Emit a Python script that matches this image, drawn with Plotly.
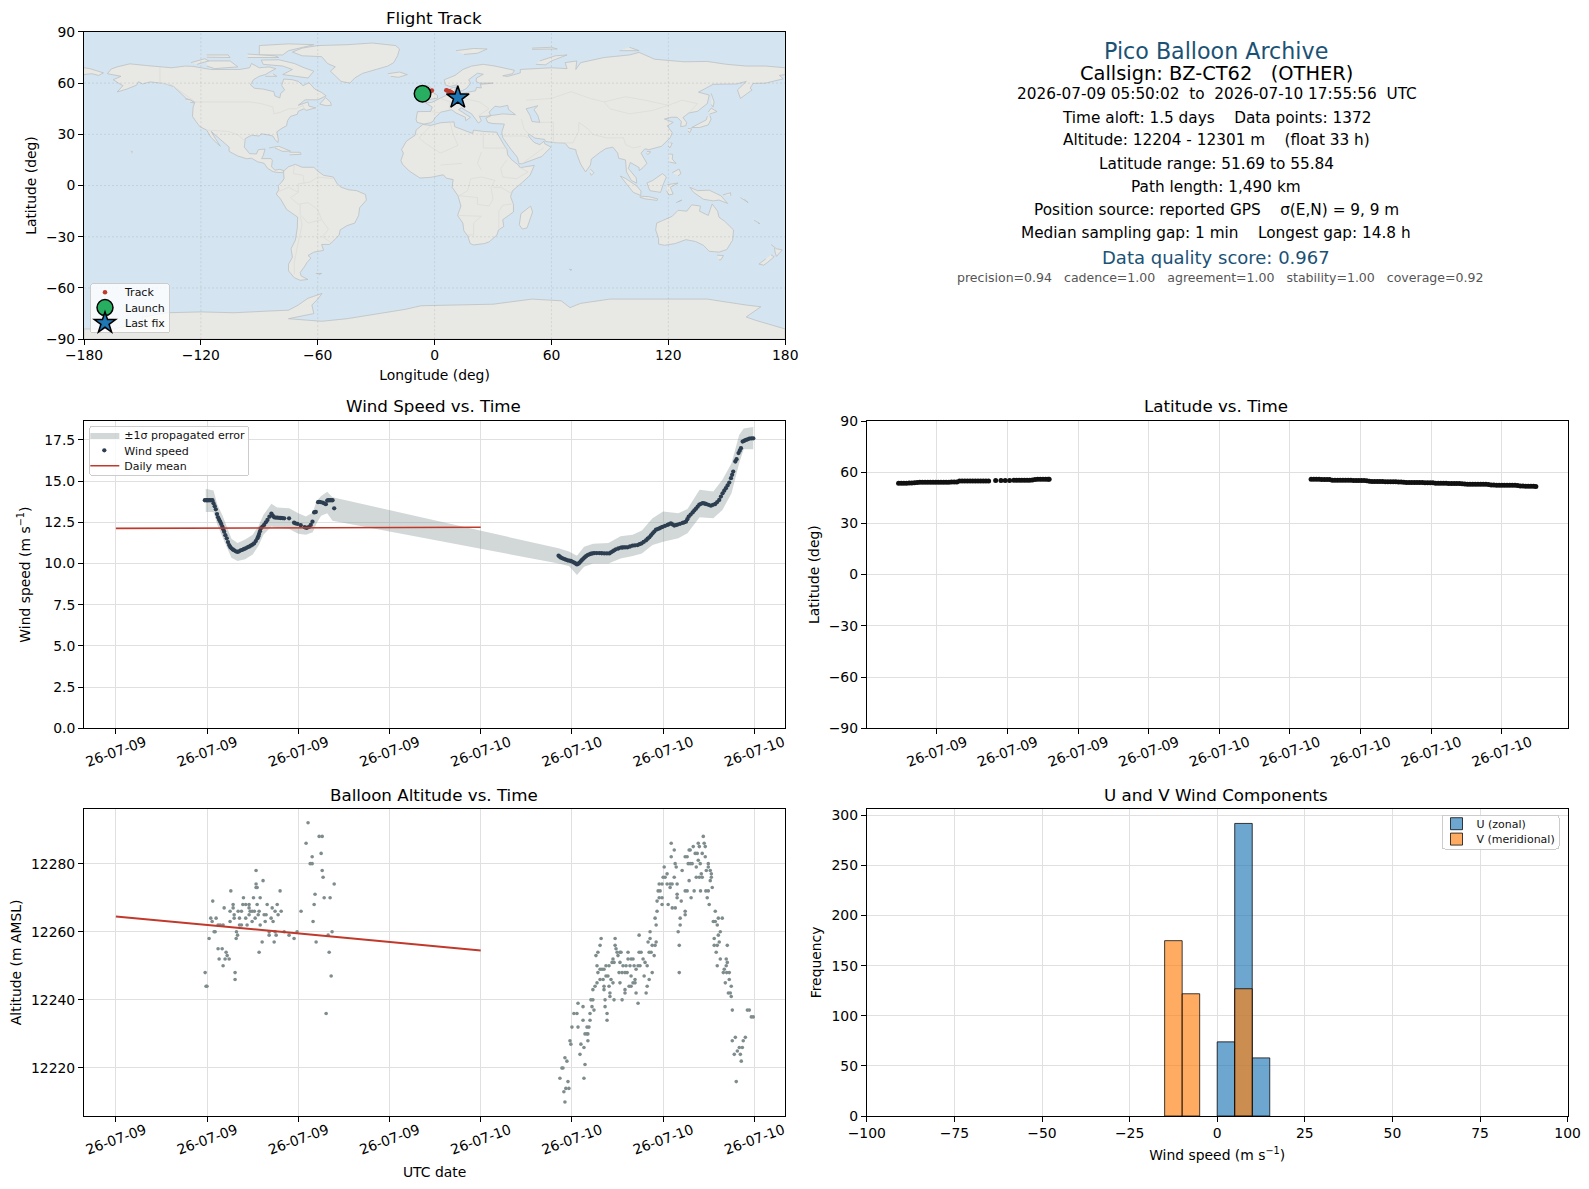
from datetime import datetime, timedelta
import plotly.graph_objects as go

# ---- data -------------------------------------------------------------
base_time = datetime(2026, 7, 9)
wide_tick_hours = [0, 6, 12, 18, 24, 30, 36, 42]
lat_tick_hours = [8, 12, 16, 20, 24, 28, 32, 36, 40]
lon_ticks = [-180, -120, -60, 0, 60, 120, 180]
lat_ticks = [-90, -60, -30, 0, 30, 60, 90]

track_lon = [-6.2, -5.3, -4.2, -3.2, -2.2, -1.4, 6.0, 6.8, 7.6, 8.4, 9.2, 10.2, 11.9]
track_lat = [53.6, 54.0, 54.4, 54.9, 55.3, 55.7, 55.8, 55.6, 55.2, 54.8, 54.2, 53.0, 51.7]
launch_point = ([-6.2], [53.8])
last_fix_point = ([11.9], [51.5])

wind_points = [
    (5.85,13.84),(5.95,13.84),(6.04,13.84),(6.13,13.84),(6.24,13.84),(6.35,13.84),(6.42,13.66),(6.5,13.48),(6.57,13.29),(6.65,13.0),
    (6.72,12.8),(6.79,12.66),(6.86,12.54),(6.93,12.4),(7.0,12.24),(7.06,12.08),(7.12,11.93),(7.2,11.72),(7.29,11.53),(7.37,11.3),
    (7.45,11.12),(7.52,11.0),(7.6,10.92),(7.69,10.85),(7.78,10.8),(7.89,10.74),(8.0,10.7),(8.1,10.74),(8.21,10.8),(8.32,10.83),
    (8.43,10.88),(8.54,10.92),(8.65,10.98),(8.76,11.02),(8.87,11.08),(8.98,11.14),(9.09,11.22),(9.2,11.36),(9.31,11.53),(9.37,11.66),
    (9.42,11.79),(9.48,11.96),(9.53,12.13),(9.64,12.24),(9.75,12.34),(9.86,12.5),(9.97,12.64),(10.1,12.84),(10.23,13.03),(10.32,12.9),
    (10.41,12.8),(10.52,12.79),(10.63,12.78),(10.74,12.77),(10.85,12.76),(10.96,12.75),(11.07,12.74),(11.39,12.74),(11.72,12.48),(11.8,12.44),
    (11.94,12.4),(12.16,12.32),(12.42,12.2),(12.55,12.16),(12.7,12.22),(12.82,12.34),(12.93,12.54),(13.04,13.1),(13.1,13.12),(13.15,13.13),
    (13.3,13.72),(13.37,13.74),(13.45,13.73),(13.59,13.7),(13.7,13.65),(13.81,13.6),(13.9,13.82),(13.96,13.84),(14.05,13.84),(14.15,13.84),
    (14.25,13.84),(14.36,13.35),
    (29.12,10.47),(29.2,10.41),(29.28,10.35),(29.39,10.31),(29.5,10.27),(29.6,10.23),(29.71,10.19),(29.82,10.17),(29.93,10.15),(30.04,10.1),
    (30.15,10.05),(30.24,10.0),(30.33,9.94),(30.41,9.98),(30.48,10.03),(30.57,10.12),(30.66,10.21),(30.75,10.29),(30.83,10.37),(30.93,10.44),
    (31.03,10.51),(31.14,10.55),(31.25,10.59),(31.36,10.61),(31.47,10.63),(31.63,10.63),(31.8,10.63),(31.96,10.62),(32.13,10.61),(32.3,10.61),
    (32.46,10.61),(32.57,10.68),(32.68,10.74),(32.78,10.8),(32.89,10.86),(33.05,10.91),(33.22,10.96),(33.33,10.97),(33.44,10.98),(33.55,10.98),
    (33.66,10.98),(33.82,11.03),(33.99,11.08),(34.15,11.1),(34.32,11.12),(34.45,11.17),(34.58,11.22),(34.72,11.31),(34.87,11.4),(34.98,11.5),
    (35.09,11.59),(35.2,11.71),(35.31,11.83),(35.42,11.94),(35.53,12.05),(35.64,12.09),(35.75,12.13),(35.85,12.18),(35.96,12.22),(36.12,12.28),
    (36.29,12.34),(36.4,12.39),(36.51,12.44),(36.62,12.37),(36.73,12.3),(36.84,12.33),(36.95,12.36),(37.11,12.41),(37.28,12.46),(37.39,12.5),
    (37.5,12.54),(37.59,12.69),(37.68,12.84),(37.81,12.97),(37.94,13.1),(38.05,13.22),(38.16,13.33),(38.27,13.45),(38.38,13.57),(38.49,13.62),
    (38.6,13.67),(38.71,13.64),(38.82,13.61),(38.98,13.56),(39.14,13.51),(39.28,13.56),(39.43,13.61),(39.56,13.73),(39.69,13.86),(39.8,14.06),
    (39.91,14.26),(40.02,14.42),(40.13,14.57),(40.24,14.74),(40.35,14.91),(40.46,15.18),(40.54,15.38),(40.61,15.58),(40.75,16.19),(40.83,16.33),
    (40.96,16.7),(41.04,16.85),(41.12,17.0),(41.23,17.4),(41.34,17.45),(41.45,17.5),(41.56,17.54),(41.67,17.58),(41.8,17.59),(41.93,17.6),
]
band_hours = [5.91, 6.42, 6.68, 7.0, 7.33, 7.6, 8.0, 8.5, 9.0, 9.4, 9.7, 10.23, 10.6, 11.4, 12.0, 12.5, 12.95, 13.2, 13.5, 13.9, 14.25,
              29.12, 29.8, 30.33, 30.8, 31.4, 32.4, 33.2, 34.0, 34.6, 35.3, 36.0, 37.0, 37.6, 38.4, 39.3, 39.9, 40.5, 41.0, 41.3, 41.93]
band_upper = [14.53, 14.43, 13.55, 12.95, 12.15, 11.5, 11.25, 11.45, 11.75, 12.3, 12.95, 13.62, 13.4, 13.35, 13.05, 12.85, 13.1, 13.8, 14.1, 14.35, 14.02,
              10.92, 10.72, 10.47, 11.02, 11.2, 11.25, 11.65, 11.75, 12.0, 12.74, 13.15, 13.05, 13.3, 14.47, 14.37, 15.08, 16.09, 17.8, 18.2, 18.28]
band_lower = [13.13, 13.13, 12.34, 11.63, 10.9, 10.35, 10.15, 10.25, 10.55, 11.1, 11.75, 12.24, 12.15, 12.1, 11.8, 11.75, 11.9, 12.45, 12.9, 13.05, 12.6,
              10.0, 9.85, 9.3, 9.8, 10.0, 10.0, 10.3, 10.45, 10.6, 11.12, 11.32, 11.53, 11.83, 12.8, 12.74, 13.25, 14.26, 16.09, 16.94, 16.94]
wind_mean_hours = [0, 24]
wind_mean_values = [12.13, 12.2]

lat_points = [
    (5.83,53.55),(5.98,53.55),(6.13,53.55),(6.28,53.58),(6.43,53.6),(6.58,53.65),(6.73,53.75),(6.88,54.0),(7.03,54.05),(7.18,54.08),(7.33,54.1),(7.48,54.1),
    (7.63,54.1),(7.78,54.12),(7.93,54.15),(8.08,54.15),(8.23,54.15),(8.38,54.15),(8.53,54.15),(8.68,54.18),(8.83,54.2),(8.98,54.22),(9.13,54.25),(9.28,54.85),
    (9.43,54.9),(9.58,54.9),(9.73,54.9),(9.88,54.88),(10.03,54.85),(10.18,54.82),(10.33,54.8),(10.48,54.8),(10.63,54.8),(10.78,54.8),(10.93,54.8),
    (11.33,55.2),(11.63,55.2),(11.87,55.2),(12.12,55.2),(12.36,55.25),(12.51,55.25),(12.66,55.25),(12.81,55.25),(12.96,55.25),(13.11,55.28),(13.26,55.3),
    (13.41,55.4),(13.56,55.75),(13.71,55.84),(13.86,55.84),(14.01,55.84),(14.16,55.84),(14.3,55.84),(14.36,55.84),
    (29.2,55.84),(29.35,55.84),(29.5,55.84),(29.65,55.8),(29.8,55.78),(29.95,55.75),(30.1,55.72),(30.25,55.65),(30.4,55.35),(30.55,55.3),(30.7,55.3),(30.85,55.28),
    (31.0,55.25),(31.15,55.25),(31.3,55.25),(31.45,55.22),(31.6,55.2),(31.75,55.2),(31.9,55.2),(32.05,55.18),(32.2,55.12),(32.35,54.98),(32.5,54.7),(32.65,54.55),
    (32.8,54.5),(32.95,54.5),(33.1,54.5),(33.25,54.48),(33.4,54.45),(33.55,54.45),(33.7,54.42),(33.85,54.4),(34.0,54.35),(34.15,54.32),(34.3,54.3),(34.45,54.1),
    (34.6,53.95),(34.75,53.95),(34.9,53.95),(35.05,53.92),(35.2,53.9),(35.35,53.9),(35.5,53.9),(35.65,53.88),(35.8,53.85),(35.95,53.82),(36.1,53.8),(36.25,53.55),
    (36.4,53.5),(36.55,53.5),(36.7,53.5),(36.85,53.48),(37.0,53.45),(37.15,53.42),(37.3,53.4),(37.45,53.38),(37.6,53.35),(37.75,53.3),(37.9,53.1),(38.05,53.0),
    (38.2,53.0),(38.35,53.0),(38.5,52.98),(38.65,52.95),(38.8,52.92),(38.95,52.9),(39.1,52.88),(39.25,52.85),(39.4,52.55),(39.55,52.45),(39.7,52.42),(39.85,52.4),
    (40.0,52.4),(40.15,52.4),(40.3,52.38),(40.45,52.35),(40.6,52.32),(40.75,52.3),(40.9,52.2),(41.05,51.9),(41.2,51.85),(41.35,51.8),(41.5,51.78),(41.65,51.75),(41.8,51.72),(41.93,51.69),
]

alt_points = [
    (5.87,12248),(5.93,12244),(5.99,12244),(6.13,12258),(6.24,12264),(6.33,12263),(6.37,12269),(6.46,12260),(6.53,12260),(6.59,12264),(6.72,12262),(6.86,12262),
    (7.05,12262),(6.72,12255),(6.99,12255),(6.79,12252),(7.05,12250),(7.12,12267),(7.18,12252),(7.25,12254),(7.32,12253),(7.45,12252),(7.51,12266),(7.51,12263),
    (7.56,12272),(7.71,12268),(7.71,12267),(7.78,12265),(7.78,12264),(7.84,12248),(7.84,12246),(7.93,12260),(8.0,12259),(7.91,12258),(8.04,12266),(8.26,12266),
    (8.13,12264),(8.13,12262),(8.26,12262),(8.35,12268),(8.54,12268),(8.76,12268),(8.39,12270),(8.54,12264),(8.63,12262),(8.76,12267),(8.83,12266),(8.76,12265),
    (8.96,12266),(9.11,12266),(8.96,12263),(9.16,12264),(9.05,12270),(9.22,12273),(9.29,12273),(9.22,12274),(9.22,12278),(9.29,12268),(9.42,12254),(9.36,12265),
    (9.42,12266),(9.49,12270),(9.49,12262),(9.68,12275),(9.62,12257),(9.75,12265),(9.88,12265),(9.82,12263),(9.95,12268),(10.08,12260),(10.08,12259),(10.21,12264),
    (10.34,12263),(10.28,12267),(10.41,12257),(10.47,12266),(10.47,12260),(10.54,12259),(10.67,12265),(10.61,12268),(10.8,12272),(10.87,12266),(11.07,12260),
    (11.39,12259),(11.72,12258),(11.92,12260),(12.18,12266),(12.51,12286),(12.64,12292),(12.78,12280),(12.91,12280),(12.91,12282),(12.97,12263),(13.04,12268),
    (13.1,12271),(13.17,12257),(13.37,12288),(13.57,12288),(13.5,12283),(13.57,12278),(13.63,12276),(13.7,12270),(13.83,12236),(13.96,12259),(14.03,12254),
    (14.09,12270),(14.16,12247),(14.22,12260),(14.36,12274),
    (29.21,12217),(29.34,12220),(29.41,12220),(29.47,12213),(29.54,12210),(29.54,12223),(29.67,12222),(29.6,12214),(29.8,12214),(29.74,12216),(29.87,12228),
    (29.93,12227),(30.0,12232),(30.13,12236),(30.33,12236),(30.4,12239),(30.4,12232),(30.53,12224),(30.59,12227),(30.73,12238),(30.73,12234),(30.79,12226),
    (30.86,12221),(30.79,12217),(30.86,12230),(30.99,12230),(31.05,12230),(30.99,12232),(31.12,12232),(31.05,12228),(31.19,12234),(31.19,12236),(31.25,12240),
    (31.38,12240),(31.32,12238),(31.45,12237),(31.38,12243),(31.52,12244),(31.65,12245),(31.71,12248),(31.85,12249),(31.65,12250),(31.58,12253),(31.71,12254),
    (31.85,12256),(31.92,12258),(31.85,12246),(32.05,12246),(31.98,12249),(32.11,12249),(32.11,12244),(32.11,12243),(32.18,12238),(32.18,12240),(32.31,12236),
    (32.31,12234),(32.24,12250),(32.44,12250),(32.24,12247),(32.37,12247),(32.44,12244),(32.5,12242),(32.5,12241),(32.57,12246),(32.7,12245),(32.64,12251),
    (32.77,12251),(32.7,12252),(32.84,12258),(32.84,12256),(32.9,12255),(32.97,12254),(33.03,12253),(32.77,12240),(33.16,12254),(33.23,12254),(33.16,12251),
    (33.16,12245),(33.1,12248),(33.3,12248),(33.49,12248),(33.63,12248),(33.3,12240),(33.36,12250),(33.56,12250),(33.82,12250),(33.49,12242),(33.49,12243),
    (33.76,12244),(33.89,12244),(33.69,12254),(33.69,12252),(33.89,12252),(34.02,12252),(33.89,12247),(34.02,12245),(34.15,12246),(34.15,12245),(34.09,12250),
    (34.22,12249),(34.22,12242),(34.35,12239),(34.42,12254),(34.55,12254),(34.35,12250),(34.48,12250),(34.42,12259),(34.68,12252),(34.75,12247),(34.88,12242),
    (34.95,12244),(35.08,12246),(35.28,12248),(34.81,12251),(34.95,12250),(35.08,12254),(35.21,12254),(35.41,12253),(35.28,12256),(35.47,12256),(35.01,12257),
    (35.14,12258),(35.54,12257),(35.14,12260),(35.54,12262),(35.47,12264),(35.6,12266),(35.6,12269),(35.93,12268),(36.33,12268),(35.74,12270),(35.93,12270),
    (35.67,12272),(35.8,12272),(35.74,12274),(35.93,12274),(36.0,12276),(36.13,12276),(36.26,12277),(36.07,12279),(36.26,12274),(36.46,12274),(36.59,12274),
    (36.46,12273),(36.73,12276),(36.53,12282),(36.73,12284),(36.53,12286),(36.6,12267),(36.8,12267),(36.79,12280),(36.86,12279),(36.92,12274),(36.92,12271),
    (36.92,12270),(36.99,12260),(37.06,12256),(37.06,12248),(37.12,12264),(37.12,12262),(37.19,12269),(37.25,12278),(37.45,12266),(37.45,12265),(37.45,12272),
    (37.58,12272),(37.45,12282),(37.58,12282),(37.71,12284),(37.78,12284),(37.65,12280),(37.78,12280),(37.91,12280),(37.98,12285),(37.84,12270),(37.71,12275),
    (38.04,12272),(38.18,12276),(38.38,12276),(38.57,12276),(38.11,12283),(38.24,12283),(38.18,12279),(38.31,12281),(38.31,12286),(38.38,12285),(38.57,12283),
    (38.64,12288),(38.7,12286),(38.77,12285),(38.44,12280),(38.51,12277),(38.77,12282),(38.84,12278),(38.46,12272),(38.81,12272),(38.97,12272),(39.23,12273),
    (38.9,12270),(39.03,12268),(38.97,12280),(38.97,12279),(39.1,12278),(39.17,12277),(39.17,12276),(39.1,12275),(39.43,12266),(39.63,12264),(39.89,12264),
    (39.3,12263),(39.43,12263),(39.56,12262),(39.63,12259),(39.76,12260),(39.69,12257),(39.36,12258),(39.36,12256),(39.56,12256),(39.49,12254),(40.22,12256),
    (39.76,12252),(40.15,12252),(40.22,12251),(39.56,12250),(40.15,12250),(40.02,12249),(39.96,12248),(40.18,12248),(40.35,12248),(40.35,12246),(40.09,12245),
    (40.48,12244),(40.29,12242),(40.42,12242),(40.48,12241),(40.55,12237),(41.54,12237),(41.67,12237),(41.8,12235),(41.93,12235),(40.55,12228),(40.75,12229),
    (41.41,12229),(41.27,12228),(41.01,12226),(41.21,12226),(40.88,12225),(40.68,12224),(41.08,12224),(41.14,12222),(40.81,12216),
]
alt_mean_hours = [0, 24]
alt_mean_values = [12264.5, 12254.5]

u_bin_centers = [2.5, 7.5, 12.5]
u_counts = [74, 292, 58]
v_bin_centers = [-12.5, -7.5, 7.5]
v_counts = [175, 122, 127]

info_lines = [
    ("Pico Balloon Archive", 22.2, "#1a5276", 50.7, -1),
    ("Callsign: BZ-CT62   (OTHER)", 19.4, "#000000", 73.5, -1),
    ("2026-07-09 05:50:02  to  2026-07-10 17:55:56  UTC", 15.3, "#000000", 94.5, 0),
    ("Time aloft: 1.5 days    Data points: 1372", 15.3, "#000000", 117.8, -1),
    ("Altitude: 12204 - 12301 m    (float 33 h)", 15.3, "#000000", 140.3, -1),
    ("Latitude range: 51.69 to 55.84", 15.3, "#000000", 163.5, -1),
    ("Path length: 1,490 km", 15.3, "#000000", 186.7, -1),
    ("Position source: reported GPS    σ(E,N) = 9, 9 m", 15.3, "#000000", 210, -1),
    ("Median sampling gap: 1 min    Longest gap: 14.8 h", 15.3, "#000000", 233, -1),
    ("Data quality score: 0.967", 18, "#1a5276", 257.5, -1),
    ("precision=0.94   cadence=1.00   agreement=1.00   stability=1.00   coverage=0.92", 12.55, "#555555", 278, 3),
]

north_america = [(-168,65.5),(-166,68.3),(-163,69.5),(-156.5,71.3),(-148,70.3),(-141,69.6),(-135,69),(-128,70),(-124,69.8),(-115,68),(-108,68),(-100,68),(-95,69),(-94,71.5),(-90,69),(-85,69.5),(-81.5,68.5),(-85,66),(-87,65),(-90,64),(-93,62),(-94.5,59),(-92.5,57),(-88,56.5),(-82.5,55),(-82,52.5),(-79.5,51.3),(-79,54),(-77,56),(-78.5,58.5),(-77.5,62.4),(-73,62),(-70,61),(-67.5,58.5),(-64.5,60.3),(-61.5,56.5),(-58,54.5),(-55.7,52.5),(-60,50.2),(-66.5,50.2),(-70,47),(-65,49),(-64.5,46.5),(-61,45.5),(-66,44),(-67,45),(-70,43.5),(-70.5,41.7),(-74,40.5),(-75.5,38),(-76,35),(-78,33.8),(-81,31.5),(-80.2,27),(-80.5,25.2),(-82,27),(-83,29),(-85.5,29.7),(-89,30.3),(-90,29),(-94,29.5),(-97.2,27.5),(-97.7,22.5),(-95,18.7),(-91.5,18.5),(-90.5,21),(-87,21.4),(-88,17.5),(-88.8,15.8),(-84,15.8),(-83.3,14.8),(-83.7,11),(-82,9),(-79.5,9.5),(-77.4,8.7),(-78,7.5),(-80,7.5),(-81.5,7.8),(-83,8.2),(-85.7,10),(-87.5,13),(-91,14),(-94,16),(-96.5,15.7),(-101,17.3),(-105.5,20),(-105.5,22.5),(-109,26),(-112.5,30),(-114.7,31.7),(-112.5,27.5),(-110,23),(-112,25),(-115,28.5),(-117,32.5),(-120.5,34.5),(-122.5,37.5),(-124.3,40.5),(-124,46),(-123,49),(-127.5,51),(-130.5,54.5),(-134,58),(-139,59.8),(-146,60.7),(-150,59.5),(-152,60.8),(-153,58.8),(-158,56.5),(-163,54.8),(-160,58.5),(-162,59.8),(-165,62),(-161,64),(-168,65.5)]
greenland = [(-73,78.2),(-68,80.5),(-60,82),(-45,82.5),(-32,83.5),(-20,82),(-18,80),(-19,76),(-21,72),(-24,70),(-30,68),(-37,65.7),(-41,63),(-43.5,60),(-48,61),(-51,64),(-53.5,67),(-51,69.5),(-55,71.5),(-58,75.5),(-68,76),(-73,78.2)]
baffin = [(-80,73.7),(-72,71.5),(-67,69),(-62,67),(-65,63),(-72,64),(-78,65),(-73,68),(-78,70),(-88,71),(-89,73.5),(-80,73.7)]
victoria = [(-117,73),(-105,73),(-101,69.5),(-113,68.5),(-117,70)]
ellesmere = [(-90,76.5),(-78,76.5),(-75,79),(-62,82.5),(-75,83),(-90,82),(-90,76.5)]
banks = [(-125,72),(-118,74.3),(-116,73),(-122,71)]
devon = [(-96,75),(-80,75),(-82,76),(-96,77)]
melville = [(-117,75.2),(-105,75),(-106,76.5),(-117,76.5)]
southampton = [(-87,64),(-81,64),(-83,65.5)]
newfoundland = [(-59,47.7),(-55.5,46.8),(-53,47),(-53.5,49),(-56,51.5),(-59,47.7)]
cuba = [(-85,22),(-80,23),(-74,20.2),(-78,20),(-82,22)]
hispaniola = [(-74.5,19.5),(-69,19.5),(-68.5,18.3),(-74.5,18)]
vancouver = [(-128,50.7),(-125,50),(-123.5,48.4),(-125.5,48.8)]
hawaii = [(-156,20.2),(-155,19.7),(-155.7,19)]
south_america = [(-77.5,8.5),(-75,11),(-71.5,12.4),(-68,10.7),(-62,10.7),(-60,8.5),(-57,6),(-52,5),(-50,1),(-48,-1),(-44,-2.5),(-40,-3),(-35.5,-5.2),(-35,-8.5),(-38.5,-13),(-39,-17.5),(-41,-22),(-45,-23.5),(-48.5,-26),(-49,-29),(-52,-32.5),(-54,-34.5),(-58,-34.5),(-57,-38),(-62,-39),(-65,-41),(-63.5,-42.5),(-65.5,-45),(-66.5,-47),(-69,-51),(-68.5,-53),(-65,-55),(-69,-55.5),(-72,-54),(-75,-50),(-75,-46),(-73,-42),(-73.7,-37),(-71.5,-32),(-70.5,-25),(-70.3,-18.5),(-76,-14),(-79,-8),(-81.3,-5),(-80,-2.5),(-80.3,0),(-78.5,2),(-77.3,4),(-77.5,7),(-77.5,8.5)]
falklands = [(-61,-51.5),(-58,-51.5),(-59.5,-52.3)]
africa = [(-6,35.8),(-2,35.2),(3,36.8),(10,37.3),(10.3,34.5),(15,32.3),(19.5,30.5),(20,32.5),(25,31.7),(32,31.2),(32.5,29.9),(35.5,24),(37.2,21),(37.5,18),(39.5,15.2),(43,12),(44,10.5),(51.2,11.8),(49,6),(45,1.8),(40,-3),(39,-6.5),(40.5,-11),(40.5,-15.5),(35,-20),(35.5,-24),(32.8,-26),(32,-29),(28,-33),(25.5,-34),(20,-34.8),(18.3,-34),(17,-29.5),(15,-26.5),(14.5,-22),(11.8,-17.5),(13.5,-12),(12,-6),(9,-1),(9.5,3.5),(6,4.3),(4.5,6.3),(-2,4.8),(-7.5,4.4),(-13,8.5),(-16.5,12.5),(-17.3,14.7),(-16,19),(-17,21),(-14.5,26),(-10,29.5),(-9.5,32.5),(-6,35.8)]
madagascar = [(49.3,-12),(50.3,-15.5),(47.5,-24.8),(45,-25.5),(43.5,-23),(44.3,-16.5),(49.3,-12)]
eurasia = [(-9,37),(-9.5,38.8),(-8.8,43.3),(-2,43.4),(-1.2,46),(-4.7,48.4),(-1.5,48.7),(1.5,50.5),(4,52),(8,54),(8.3,57),(10.7,57.7),(10.3,54.5),(11,54),(14,54),(18.5,54.7),(21,55.5),(21.5,57.5),(24,57.2),(23.5,59.3),(30,60),(23,60),(21.3,61),(21.5,63),(25,65.2),(22,65.8),(17.5,62),(18.5,60),(16.5,57),(14.3,55.6),(13,55.4),(11.3,59),(8,58),(5.5,59),(5,62),(10.5,64.5),(14.5,68),(19,70),(25,71),(31,70),(41,67.5),(40,65.5),(35,64.3),(37.5,63.9),(44,66),(44,68),(54,68.5),(60,69),(68,68.5),(67,72),(73,73),(72.5,68),(75,72),(80.5,73.5),(87,75),(100,76.5),(105,78),(113,74),(128,72.5),(140,72.7),(150,71),(160,70),(170,70),(180,69),(180,65),(177,64.5),(179,62.5),(170,60),(163.5,59.8),(162,57),(163,56),(157,51),(155.5,56),(160,61),(155,59.5),(143,59.3),(135.5,54.7),(141,53),(140,48),(135,43.5),(130.5,42.5),(127.5,39.8),(129.4,37),(129,35),(126.3,34.5),(126.7,37.5),(124.5,40),(121.5,40),(118,39),(122.5,37),(119.5,35),(122,31),(121,28),(116.5,23),(110,21),(108,21.5),(106,19),(109,13),(107,10.5),(105,8.7),(105,10.5),(100.5,13.5),(99.5,10),(103.5,4.5),(103.8,1.4),(101,3),(98.5,8),(98,15),(94.5,16),(94,19),(91.5,22.5),(88,21.7),(85,19.5),(80.5,15.5),(80,12),(77.5,8),(75,12.5),(72.8,19),(72.5,21),(69,22),(67,24.8),(61,25.2),(57,25.8),(56.5,27),(51.5,27.8),(48.8,30),(48,29.5),(50,26.5),(51.5,25),(54,24),(56.2,26),(56.5,24.5),(59.8,22.5),(55,17),(45,12.8),(43.3,12.7),(42.5,16.5),(39,21.5),(35,28),(34.5,31.3),(35.8,36),(33,36.2),(30,36.3),(27.3,37),(26.3,39.5),(29,41),(35,42),(41.5,41.5),(38,44.5),(37.5,47),(33.5,46),(31,46.5),(28,43),(28.8,41),(26,40.5),(23,40.5),(24,38),(22.5,36.6),(19.5,41),(19,42),(13.7,45.5),(12.3,44.5),(16,41.7),(18.4,40),(16,38),(15.8,40),(11,42.5),(8.8,44.4),(3.2,43),(0,39.5),(-0.5,38),(-2,36.8),(-5.5,36),(-9,37)]
great_britain = [(-5.5,50),(1.5,51.2),(1.5,52.8),(-1.5,55),(-2,57.5),(-3.5,58.6),(-6,58),(-5,55),(-3,53.5),(-5,52),(-3.5,51.3),(-5.5,50)]
ireland = [(-10,52),(-6.3,52.2),(-6,54),(-7,55.3),(-10,54)]
iceland = [(-24,65.5),(-18,66.5),(-14,65),(-18.5,63.4),(-22.5,64)]
svalbard = [(11,79),(20,80.3),(27,80),(22,77.5),(15,76.8)]
novaya_zemlya = [(52,71),(57,70.7),(60,73),(68,76.5),(62,76),(54,73)]
franz_josef = [(50,80.5),(60,81),(63,80),(50,79.8)]
severnaya = [(95,79),(105,79),(100,81)]
sakhalin = [(142,54),(143.5,49),(143,46),(142,47.5)]
honshu = [(141.3,41),(142,39),(140.5,35.5),(136,34),(132,34),(135,35.7),(137,37),(139.5,38.5),(140,40.5)]
hokkaido = [(140.5,43),(142,45.4),(145,43.3),(141,41.8)]
kyushu = [(130,33.5),(132,33.2),(131,31),(130,32)]
taiwan = [(121,25),(122,24.8),(120.8,22),(120,23.2)]
hainan = [(109,20),(111,19.7),(109.5,18.2),(108.7,19)]
luzon = [(120.5,18.5),(122.3,18.3),(122,15.5),(124,13),(120.5,13.8)]
mindanao = [(122,7.5),(125.5,9.7),(126.5,7),(125,5.7)]
sri_lanka = [(80,9.7),(81.8,7.5),(80.5,6),(79.8,7.5)]
sumatra = [(95.3,5.6),(98,4.2),(103.5,0),(106,-3.2),(105.8,-5.8),(102,-4),(98.5,1),(95.3,5.6)]
java = [(105.3,-6.2),(110,-6.5),(114.5,-7.8),(114.3,-8.7),(108,-7.8),(105.3,-6.8)]
borneo = [(109,1.5),(112,3),(117,7),(119,5),(117.5,1),(116,-4),(110.5,-3),(109,1.5)]
sulawesi = [(119.5,0.5),(125,1.5),(121,-1),(122.5,-5),(120.3,-5.5),(119,-3)]
new_guinea = [(131,-1),(135,-3),(141,-2.7),(147,-6),(150.5,-10.5),(146,-8.5),(143,-9),(138,-8),(133,-4),(131,-1)]
timor = [(124,-10),(127,-8.5),(125,-9.5)]
new_britain = [(148,-5.5),(152,-4.2),(152,-6)]
solomon = [(157,-7),(161,-10),(159,-8)]
australia = [(114,-22),(113.5,-26),(115,-31),(115,-34.3),(118,-35),(123.5,-34),(129,-31.7),(134,-32.8),(138,-35),(141,-38.5),(146,-39),(150,-37.5),(153,-32),(153.5,-26),(149,-21),(146,-18.5),(145.3,-15),(142.5,-10.8),(141.5,-14),(140.5,-17.5),(136,-15),(136.5,-12),(132,-11.3),(129.5,-15),(125,-14.5),(122,-18),(117,-20.5),(114,-22)]
tasmania = [(145,-40.8),(148.3,-41),(147,-43.5),(146,-43.5)]
nz_north = [(172.7,-34.5),(175.5,-37),(178.5,-37.7),(175.5,-41.5),(174.8,-39),(174.5,-36.5)]
nz_south = [(172.7,-40.6),(174.3,-41.7),(171,-45),(169,-46.6),(166.5,-46),(170,-43)]
new_caledonia = [(164,-20.3),(167,-22.3),(166,-22)]
kerguelen = [(69,-49),(70.5,-49.3),(69.5,-49.7)]
chukotka_west = [(-180,69),(-177,68.5),(-170,66),(-172.5,64.5),(-176,65.5),(-180,65)]
antarctica = [(-180,-90),(-180,-84),(-165,-84),(-150,-80),(-150,-77),(-137,-74.5),(-120,-74),(-103,-74.5),(-85,-73.5),(-75,-73),(-70,-70),(-65,-66),(-57.8,-63.2),(-60,-66.5),(-63,-70),(-62,-75),(-75,-78),(-58,-79.5),(-45,-78),(-30,-75.3),(-15,-72.5),(-7,-70.4),(15,-69.8),(30,-69.5),(50,-66.5),(65,-67.5),(69.5,-71.5),(75,-69),(90,-66.5),(120,-66.5),(140,-66.5),(160,-70),(167.5,-71),(160,-77),(165,-79),(180,-84),(180,-90),(-180,-90)]
land_shapes = [north_america, greenland, baffin, victoria, ellesmere, banks, devon, melville, southampton, newfoundland, cuba, hispaniola, vancouver, hawaii, south_america, falklands, africa, madagascar, eurasia, great_britain, ireland, iceland, svalbard, novaya_zemlya, franz_josef, severnaya, sakhalin, honshu, hokkaido, kyushu, taiwan, hainan, luzon, mindanao, sri_lanka, sumatra, java, borneo, sulawesi, new_guinea, timor, new_britain, solomon, australia, tasmania, nz_north, nz_south, new_caledonia, kerguelen, chukotka_west, antarctica]
caspian = [(47,45),(53,46.7),(51,44.5),(53,41),(54,37),(50,37.5),(49,41),(47,45)]
border_lines = [
    [(-141,69.6),(-141,60),(-135,59),(-130,55),(-123,49),(-95,49),(-89,48),(-83,46),(-82.5,42),(-79,43),(-75,45),(-71,45),(-67.5,47),(-67,45)],
    [(-117,32.5),(-108,31.5),(-106,31.7),(-101,29.7),(-97.2,26)],
    [(-52,4),(-60,5),(-64,2),(-70,1),(-70,-4),(-74,-7),(-70,-11),(-65,-10),(-60,-14),(-58,-20),(-54.5,-25.5),(-57.5,-30),(-53,-33.5)],
    [(-69,-18),(-68,-23),(-70,-33),(-72,-45),(-72,-52)],
    [(-72,12),(-72.5,7),(-67.5,6),(-67,1)],
    [(-80,-3.5),(-75,-1),(-70,-4)],
    [(-69,-11),(-69,-17),(-65,-22),(-58,-20)],
    [(-2,35),(-8,28),(-5,25),(3,19),(12,23.5),(9.5,30),(8,37)],
    [(25,31.5),(25,22),(37,22)],
    [(24,19.5),(22,13),(24,9)],
    [(3,12),(14,13)],
    [(12.5,-6),(22,-7),(22,-11),(28,-12),(30,-8),(29,-1),(31,3),(24,5),(18.5,4),(17,-3),(12.5,-6)],
    [(43,11),(48,8),(42,4),(35,5),(34,10),(37,15)],
    [(12,-17.5),(24,-18),(20,-22),(20,-29),(17,-29)],
    [(30,-1),(34,-1),(39.5,-4.7)],
    [(40.5,-10.7),(35,-11.5),(33,-15),(33,-25)],
    [(47,50),(60,51),(70,55),(80,51),(87,49)],
    [(87,49),(98,52),(108,50),(120,47),(112,44),(100,42),(90,45),(87,49)],
    [(120,47),(127,50),(135,48),(131,43)],
    [(74,37),(79,33),(81,30),(88,28),(97,28),(98,24),(102,22),(106,23)],
    [(62,25),(71,25),(74,32),(74,37)],
    [(44.5,39),(46,33),(48.5,30)],
    [(61,25),(61,37),(54,37)],
    [(-1.5,43.3),(3,42.5)],
    [(3,51),(8,49),(7.5,44)],
    [(14,54),(15,51),(23,49),(28,45),(22.5,41)],
    [(35,29),(46,29),(48,28)],
    [(45,13),(52,19),(56,22)],
]

# ---- helpers ----------------------------------------------------------
W, H = 1589, 1189
LEFT = (84.0, 785.2)
RIGHT = (866.8, 1567.6)
ROWS = [(31.9, 339.2), (421.0, 728.2), (808.8, 1116.0)]


def times(hours):
    return [base_time + timedelta(hours=h) for h in hours]


def xdom(c):
    return [c[0] / W, c[1] / W]


def ydom(r):
    return [1 - r[1] / H, 1 - r[0] / H]


def unzip(points):
    return [p[0] for p in points], [p[1] for p in points]


FONT = "DejaVu Sans"
GRID = "#e0e0e0"
axis_style = dict(showline=True, mirror=True, linecolor="black", linewidth=1, ticks="outside", ticklen=5, tickwidth=1,
                  tickcolor="black", zeroline=False, showgrid=True, gridcolor=GRID, gridwidth=1,
                  tickfont=dict(family=FONT, size=13.9, color="black"), automargin=False)


def title(text, standoff):
    return dict(text=text, standoff=standoff, font=dict(family=FONT, size=13.9, color="black"))


fig = go.Figure()

# ---- map --------------------------------------------------------------
for shape in land_shapes:
    sx, sy = unzip(shape)
    fig.add_trace(go.Scatter(x=sx, y=sy, mode="lines", fill="toself", fillcolor="#e8e8e4", line=dict(color="#bcc0c2", width=0.8),
                             showlegend=False, hoverinfo="skip", xaxis="x", yaxis="y"))
for line in border_lines:
    sx, sy = unzip(line)
    fig.add_trace(go.Scatter(x=sx, y=sy, mode="lines", line=dict(color="#dcdcd8", width=0.8), showlegend=False, hoverinfo="skip", xaxis="x", yaxis="y"))
cx, cy = unzip(caspian)
fig.add_trace(go.Scatter(x=cx, y=cy, mode="lines", fill="toself", fillcolor="#d4e5f1", line=dict(color="#bcc0c2", width=0.8),
                         showlegend=False, hoverinfo="skip", xaxis="x", yaxis="y"))
grid_dash = dict(color="rgba(120,120,120,0.18)", width=1, dash="2px,2px")
gx, gy = [], []
for v in lon_ticks[1:-1]:
    gx += [v, v, None]
    gy += [-90, 90, None]
for v in lat_ticks[1:-1]:
    gx += [-180, 180, None]
    gy += [v, v, None]
fig.add_trace(go.Scatter(x=gx, y=gy, mode="lines", line=grid_dash, showlegend=False, hoverinfo="skip", xaxis="x", yaxis="y"))
fig.add_trace(go.Scatter(x=track_lon, y=track_lat, mode="markers", name="Track", marker=dict(size=4.5, color="#c0392b"),
                         xaxis="x", yaxis="y", legend="legend"))
fig.add_trace(go.Scatter(x=launch_point[0], y=launch_point[1], mode="markers", name="Launch",
                         marker=dict(size=16.5, color="#27ae60", line=dict(color="black", width=1.5)), xaxis="x", yaxis="y", legend="legend"))
fig.add_trace(go.Scatter(x=last_fix_point[0], y=last_fix_point[1], mode="markers", name="Last fix",
                         marker=dict(size=17, symbol="star", color="#1f77b4", line=dict(color="black", width=1.5)), xaxis="x", yaxis="y", legend="legend"))

# ---- wind speed -------------------------------------------------------
wind_h, wind_s = unzip(wind_points)
fig.add_trace(go.Scatter(x=times(band_hours + band_hours[::-1]), y=band_upper + band_lower[::-1], mode="lines", fill="toself",
                         fillcolor="rgba(127,140,141,0.35)", line=dict(width=0, color="rgba(127,140,141,0.35)"), name="±1σ propagated error",
                         xaxis="x2", yaxis="y2", legend="legend2", hoverinfo="skip"))
fig.add_trace(go.Scatter(x=times(wind_h), y=wind_s, mode="markers", name="Wind speed", marker=dict(size=4.3, color="#2c3e50"),
                         xaxis="x2", yaxis="y2", legend="legend2"))
fig.add_trace(go.Scatter(x=times(wind_mean_hours), y=wind_mean_values, mode="lines", name="Daily mean", line=dict(color="#c0392b", width=1.6),
                         xaxis="x2", yaxis="y2", legend="legend2"))

# ---- latitude ---------------------------------------------------------
lat_h, lat_v = unzip(lat_points)
fig.add_trace(go.Scatter(x=times(lat_h), y=lat_v, mode="markers", marker=dict(size=5, color="#111111"), showlegend=False, xaxis="x3", yaxis="y3"))

# ---- altitude ---------------------------------------------------------
alt_h, alt_v = unzip(alt_points)
fig.add_trace(go.Scatter(x=times(alt_h), y=alt_v, mode="markers", marker=dict(size=3.6, color="#7f8c8d"), showlegend=False, xaxis="x4", yaxis="y4"))
fig.add_trace(go.Scatter(x=times(alt_mean_hours), y=alt_mean_values, mode="lines", line=dict(color="#c0392b", width=2), showlegend=False, xaxis="x4", yaxis="y4"))

# ---- histogram --------------------------------------------------------
fig.add_trace(go.Bar(x=u_bin_centers, y=u_counts, width=5, name="U (zonal)", marker=dict(color="rgba(31,119,180,0.65)", line=dict(color="rgba(0,0,0,0.75)", width=1)),
                     xaxis="x5", yaxis="y5", legend="legend3"))
fig.add_trace(go.Bar(x=v_bin_centers, y=v_counts, width=5, name="V (meridional)", marker=dict(color="rgba(255,127,14,0.65)", line=dict(color="rgba(0,0,0,0.75)", width=1)),
                     xaxis="x5", yaxis="y5", legend="legend3"))

# ---- layout -----------------------------------------------------------
wide_range = [base_time + timedelta(hours=-2.1), base_time + timedelta(hours=44.03)]
lat_range = [base_time + timedelta(hours=4.03), base_time + timedelta(hours=43.73)]
date_axis = dict(type="date", tickformat="%y-%m-%d", tickangle=-20, ticklabelshift=29, ticklabelstandoff=-5)
legend_style = dict(bgcolor="rgba(255,255,255,0.8)", bordercolor="#cccccc", borderwidth=1, font=dict(family=FONT, size=11, color="#111111"),
                    xanchor="left", yanchor="top", itemsizing="trace", itemwidth=30, tracegroupgap=0)

annotations = []
for text, cx_, top in [("Flight Track", LEFT, 17.7), ("Wind Speed vs. Time", LEFT, 406), ("Latitude vs. Time", RIGHT, 406),
                       ("Balloon Altitude vs. Time", LEFT, 795), ("U and V Wind Components", RIGHT, 795)]:
    annotations.append(dict(text=text, x=((cx_[0] + cx_[1]) / 2 - 0.7) / W, y=1 - top / H, xref="paper", yref="paper", showarrow=False,
                            xanchor="center", yanchor="middle", font=dict(family=FONT, size=16.7, color="black")))
for text, size, color, py, shift in info_lines:
    annotations.append(dict(text=text, x=((RIGHT[0] + RIGHT[1]) / 2 + shift) / W, y=1 - py / H, xref="paper", yref="paper", showarrow=False,
                            xanchor="center", yanchor="middle", font=dict(family=FONT, size=size, color=color)))

fig.update_layout(
    width=W, height=H, margin=dict(l=0, r=0, t=0, b=0), paper_bgcolor="white", plot_bgcolor="white", barmode="overlay",
    font=dict(family=FONT, color="black"), annotations=annotations, hovermode="closest",
    xaxis=dict(axis_style, domain=xdom(LEFT), range=[-180, 180], tickvals=lon_ticks, anchor="y", showgrid=False, ticklabelstandoff=-2, title=title("Longitude (deg)", 8)),
    yaxis=dict(axis_style, domain=ydom(ROWS[0]), range=[-90, 90], tickvals=lat_ticks, anchor="x", showgrid=False, title=title("Latitude (deg)", 6)),
    xaxis2=dict(axis_style, **date_axis, domain=xdom(LEFT), range=wide_range, tickvals=times(wide_tick_hours), anchor="y2"),
    yaxis2=dict(axis_style, domain=ydom(ROWS[1]), range=[0, 18.65], tickvals=[0, 2.5, 5, 7.5, 10, 12.5, 15, 17.5], ticktext=["0.0", "2.5", "5.0", "7.5", "10.0", "12.5", "15.0", "17.5"], anchor="x2", title=title("Wind speed (m s<sup>−1</sup>)", 10)),
    xaxis3=dict(axis_style, **date_axis, domain=xdom(RIGHT), range=lat_range, tickvals=times(lat_tick_hours), anchor="y3"),
    yaxis3=dict(axis_style, domain=ydom(ROWS[1]), range=[-90, 90], tickvals=lat_ticks, anchor="x3", title=title("Latitude (deg)", 5)),
    xaxis4=dict(axis_style, **date_axis, domain=xdom(LEFT), range=wide_range, tickvals=times(wide_tick_hours), anchor="y4", title=title("UTC date", 10)),
    yaxis4=dict(axis_style, domain=ydom(ROWS[2]), range=[12205.9, 12296.1], tickvals=[12220, 12240, 12260, 12280], tickformat="d", anchor="x4", title=title("Altitude (m AMSL)", 6)),
    xaxis5=dict(axis_style, domain=xdom(RIGHT), range=[-100, 100], tickvals=[-100, -75, -50, -25, 0, 25, 50, 75, 100], anchor="y5", ticklabelstandoff=-1, title=title("Wind speed (m s<sup>−1</sup>)", 10)),
    yaxis5=dict(axis_style, domain=ydom(ROWS[2]), range=[0, 306.6], tickvals=[0, 50, 100, 150, 200, 250, 300], anchor="x5", title=title("Frequency", 6)),
    legend=dict(legend_style, x=90 / W, y=1 - 283 / H),
    legend2=dict(legend_style, x=89.3 / W, y=1 - 425.7 / H),
    legend3=dict(legend_style, x=1441.5 / W, y=1 - 814.5 / H),
)
# ocean background of the map only
fig.add_shape(type="rect", xref="x", yref="y", x0=-180, x1=180, y0=-90, y1=90, fillcolor="#d4e5f1", line_width=0, layer="below")

# tighten the legend rows to the reference's compact spacing
post = """
document.body.style.margin='0';
var gd=document.getElementById('{plot_id}');
var w0={};
function fixLegends(){
  gd.querySelectorAll('g.infolayer > g[class^="legend"]').forEach(function(g){
    var items=g.querySelectorAll('g.traces');
    var bg=g.querySelector('rect.bg');
    if(!bg||!items.length)return;
    var key=g.getAttribute('class');
    if(!(key in w0))w0[key]=parseFloat(bg.getAttribute('width'));
    items.forEach(function(t,i){t.setAttribute('transform','translate(-5,'+(9.2+i*15.4)+')');});
    bg.setAttribute('height',items.length*15.4+3.2);
    bg.setAttribute('width',w0[key]-8);
    bg.setAttribute('rx',3);bg.setAttribute('ry',3);
    g.querySelectorAll('path.legendbar').forEach(function(p){p.setAttribute('d','M12,4H-12V-4H12Z');});
  });
}
fixLegends();
gd.on('plotly_afterplot',fixLegends);
setTimeout(fixLegends,100);setTimeout(fixLegends,500);
"""
fig.write_html("out.html", post_script=post, config={"displayModeBar": False})
